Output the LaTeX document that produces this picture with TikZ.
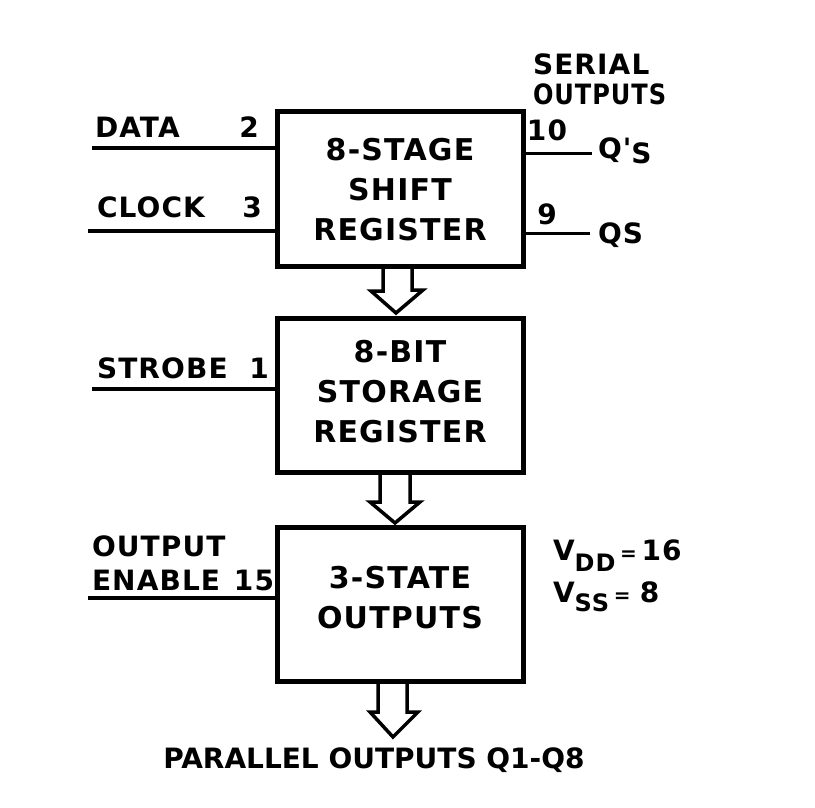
\documentclass[tikz,border=0pt]{standalone}
\usepackage{fontspec}
\newfontfamily\lblfont{DejaVu Sans}[LetterSpace=4]
\newfontfamily\plainfont{DejaVu Sans}
\usetikzlibrary{calc}
\begin{document}
\begin{tikzpicture}[x=1pt,y=-1pt,
  every node/.style={inner sep=0pt,outer sep=0pt,font=\lblfont\bfseries\fontsize{28}{40}\selectfont},
  box/.style={draw,line width=5pt,minimum width=246pt,minimum height=154pt},
  boxtext/.style={align=center,font=\lblfont\bfseries\fontsize{30}{40}\selectfont},
  inline/.style={line width=4.5pt},
  outline/.style={line width=3pt},
  barrow/.style={line width=3.5pt,line join=miter},
  lbl/.style={anchor=base west},
  pin/.style={anchor=base},
]
\useasboundingbox[fill=white] (0,0) rectangle (815,808);

% blocks
\node[box] (b1) at (400,189) {};
\node[box] (b2) at (400,395) {};
\node[box] (b3) at (400,604) {};
\node[boxtext] (t1) at (400,190) {8-STAGE\\SHIFT\\REGISTER};
\node[boxtext] (t2) at (400,392) {8-BIT\\STORAGE\\REGISTER};
\node[boxtext] (t3) at (400,598) {3-STATE\\OUTPUTS};

% input labels
\node[lbl] (ldata) at (95,138) {DATA};
\node[pin] (p2) at (249,138) {2};
\node[lbl] (lclock) at (97,217) {CLOCK};
\node[pin] (p3) at (252,217) {3};
\node[lbl] (lstrobe) at (97,378) {STROBE};
\node[pin] (p1) at (259,378) {1};
\node[lbl] (loutput) at (92,556) {OUTPUT};
\node[lbl] (lenable) at (92,590) {ENABLE};
\node[pin] (p15) at (254,590) {15};

% input lines
\coordinate (dataend) at (92,148);
\coordinate (clockend) at (88,231);
\coordinate (strobeend) at (92,389);
\coordinate (oeend) at (88,598);
\draw[inline] (dataend) -- (dataend -| b1.west);
\draw[inline] (clockend) -- (clockend -| b1.west);
\draw[inline] (strobeend) -- (strobeend -| b2.west);
\draw[inline] (oeend) -- (oeend -| b3.west);

% serial outputs
\node[lbl] (lserial) at (533,75) {SERIAL};
\node[lbl,xscale=0.86] (lsout) at (533,105) {OUTPUTS};
\node[pin] (p10) at (547,140) {10};
\node[pin] (p9) at (547,224) {9};
\node[lbl] (lqps) at (598,158) {Q'\raisebox{-5pt}{S}};
\node[lbl] (lqs) at (598,243) {QS};
\coordinate (qpend) at (592,153);
\coordinate (qend) at (590,233);
\draw[outline] (qpend -| b1.east) -- (qpend);
\draw[outline] (qend -| b1.east) -- (qend);

% supply
\node[lbl] (lvdd) at (553,560) {V\raisebox{-11pt}{\fontsize{24}{24}\selectfont DD}\,{\fontsize{20}{20}\selectfont=}\,16};
\node[lbl] (lvss) at (553,602) {V\raisebox{-9pt}{\fontsize{24}{24}\selectfont SS}\,{\fontsize{20}{20}\selectfont=}\,\,8};

% parallel outputs
\node[pin,font=\plainfont\bfseries\fontsize{28}{40}\selectfont] (lpar) at (374,768) {PARALLEL OUTPUTS Q1-Q8};

% hollow bus arrows
\draw[barrow] ($(b1.south)+(-17,0)$) -- ++(0,25) -- ++(-12,0)
  -- ($(b2.north)+(-4,-5)$) -- ++(27,-23) -- ++(-11,0) -- ($(b1.south)+(12,0)$);
\draw[barrow] ($(b2.south)+(-20,0)$) -- ++(0,30) -- ++(-10,0)
  -- ($(b3.north)+(-5,-4)$) -- ++(25,-21) -- ++(-10,0) -- ($(b2.south)+(10,0)$);
\draw[barrow] ($(b3.south)+(-22,0)$) -- ++(0,31) -- ++(-8,0)
  -- ($(b3.south)+(-7,56)$) -- ++(25,-25) -- ++(-11,0) -- ($(b3.south)+(7,0)$);
\end{tikzpicture}
\end{document}
